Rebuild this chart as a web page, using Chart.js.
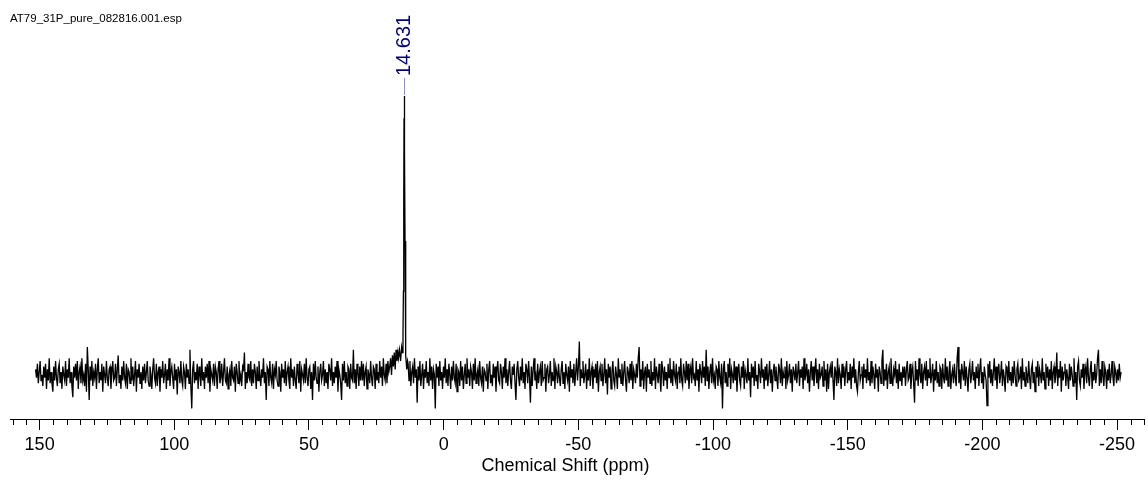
<!DOCTYPE html>
<html>
<head>
<meta charset="utf-8">
<script src="https://cdn.jsdelivr.net/npm/chart.js@4.4.0/dist/chart.umd.min.js"></script>
<style>
html, body { margin: 0; padding: 0; background: #fff; }
#wrap { position: relative; width: 1148px; height: 480px; }
#fileName { position: absolute; left: 10px; top: 12px; font: 11.5px "Liberation Sans", Arial, sans-serif; color: #000; white-space: nowrap; }
</style>
</head>
<body>
<div id="wrap">
    <canvas id="nmrChart"></canvas>
    <div id="fileName">AT79_31P_pure_082816.001.esp</div>
</div>
<script>
// spectrum, intensity scaled so the peak is 100
// left of the peak: 151.5 -> 17.0 ppm
var noiseA = [2, -1, 4, -3, 1, 5, -2, 0, -4, 3, -1, 4, -5, 2, -2, 6, -3, 1, -3, -6,
    3, -2, 5, -1, -4, 2, 4, -3, 1, -5, 3, 0, -2, 5, -4, 2, -1, 6, -3, 1,
    -4, -8, 3, -1, 4, -2, 5, -5, 1, 3, -3, 6, -2, 0, -4, 4, -6, 10, 2, -9,
    3, -2, 5, -4, 1, -1, 4, -5, 2, 6, -3, 1, -2, 4, -6, 3, 0, -3, 5, -1,
    -4, 2, 3, -5, 1, 5, -2, -1, 4, -4, 2, 7, -3, 0, -5, 3, -2, 5, -1, -3,
    4, -5, 2, 1, -3, 6, -2, 3, -4, 0, 5, -6, 2, -1, 4, -3, 1, -5, 3, -2];
var noiseB = [4, -3, 1, 5, -2, -4, 3, 0, -5, 2, 6, -1, -3, 4, -4, 1, 3, -6, 2, -1,
    5, -3, 0, 4, -5, 2, -2, 6, -4, 1, 3, -1, -5, 4, -2, 2, -7, 3, 1, -3,
    5, -2, -4, 3, 1, -5, 4, -1, 2, -3, 9, -4, -12, 2, 5, -3, 1, -2, 4, -5,
    3, 0, -4, 6, -2, 1, -5, 3, -1, 4, -3, 5, -6, 2, 0, -2, 4, -4, 3, 1,
    -5, 2, 5, -3, -1, 4, -4, 1, 6, -2, -3, 3, -5, 0, 2, -4, 5, -1, -2, 3,
    -6, 4, 1, -3, 5, -2, 0, -4, 3, 2, 8, -5, 1, -3, 4, -1, -2, 5, -4, 2];
var noiseC = [-3, 4, 1, -5, 3, -2, 5, 0, -4, 2, -1, 6, -3, 1, -9, 3, 2, -4, 5, -1,
    -3, 4, -5, 2, 0, 5, -2, -4, 3, 1, -6, 4, -1, 2, -3, 5, -4, 1, 3, -2,
    -5, 6, -1, 2, -4, 3, -2, -5, 4, 1, -3, 5, -6, 2, 0, -2, 4, -3, 6, -1,
    -4, 2, 3, -5, 1, -9, 4, -2, 5, -1, -3, 3, -6, 1, 4, -2, 0, 5, -4, 2,
    -3, 1, -5, 4, 2, -2, 6, -4, 1, -3, 3, -1, 5, -6, 2, 0, -3, -9, 4, -2,
    5, -3, 1, -4, 3, 2, -5, 4, -1, -2, 9, -3, 2, -5, 4, 1, -4, 3, -2, 5];
var noiseD1 = [-2, 4, -4, 1, 3, -5, 2, 0, -3, 5, -1, -4, 3, 2, -5, 4, -2, 1, -3, 5,
    -1, 3, -4, 6, 0, -2, 4, -3, 5, 1, 3, 6, 0, 7, 3, 8, 2, 9, 5, 8];

// the peak itself
var peakPpm = [16.8, 16.4, 16.0, 15.6, 15.3, 15.1, 14.95, 14.82, 14.72, 14.631, 14.55, 14.45, 14.34, 14.2, 14.0, 13.7, 13.4];
var peakVals = [6, 9, 5, 10, 8, 14, 30, 62, 92, 100, 95, 80, 48, 20, 7, 2, 5];
var peakLabel = 14.631;

// right of the peak: 13.2 -> -251.5 ppm
var noiseD2 = [4, -2, 5, -4, 1, 3, -3, 6, -1, 2, -10, 3, -2, 5, -4, 0, 4, -5, 2, -1,
    5, -3, 1, -4, 6, -2, 3, -5, 2, 0, -12, 4, -1, 3, -4, 5, -2, 1, -5, 3,
    -1, 6, -3, 2, -4, 4, 0, -5, 3, -2, 5, -1, -3, 4, -6, 2, 1, -4, 5, -2,
    3, -5, 0, 4, -3, 6, -1, 2];
var noiseE = [-4, 3, 1, -5, 4, -2, 6, -3, 0, 2, -4, 5, -1, -3, 3, -6, 2, 1, -2, 4,
    -5, 2, 5, -3, 0, -4, 4, -1, 3, -6, 2, 5, -2, -3, 4, 1, -5, 3, -1, 6,
    -3, 2, -4, 1, 5, -2, -5, 3, 0, 4, -3, -9, 2, 5, -1, -4, 3, -2, 6, -3,
    1, -5, 4, 2, -3, 5, -1, -10, 3, -4, 2, 6, -2, 0, -5, 4, -3, 1, 3, -4,
    5, -2, -1, 4, -6, 2, 3, -3, 0, 5, -4, 1, -2, 6, -5, 3, 1, -3, 4, -1,
    -4, 2, 5, -3, 1, -5, 4, 0, -2, 3, -6, 5, -1, 2, -3, 4, -4, 1, 6, -2];
var noiseF = [3, 12, -4, 2, -1, 5, -3, 0, 4, -5, 2, -2, 6, -4, 1, 3, -5, 2, -1, 4,
    -3, 5, -6, 1, 3, -2, 4, -4, 0, 6, -3, 2, -7, 4, -1, 3, -5, 1, 5, -2,
    -4, 3, 0, -5, 6, -1, 2, -3, 4, -4, 1, 5, -2, -6, 3, 1, -3, 4, -2, 5,
    -5, 2, 0, -3, 4, -1, 6, 10, -4, 2, -2, 5, -5, 1, 3, -6, 4, -1, 2, -3,
    5, -4, 1, -2, 6, -5, 3, 0, -3, 4, -1, -6, 5, 2, -4, 3, -2, 1, -5, 4,
    -1, 6, -3, 2, -4, 5, 0, -2, 4, -5, 1, 3, -3, 6, -2, -4, 4, 1, -3, 5];
var noiseG = [-2, 4, -5, 1, 3, -3, 6, -1, 0, -4, 5, -2, 2, -6, 4, 1, -3, 5, -1, 3,
    -4, 9, -2, 3, -5, 1, 4, -3, 6, -2, 0, -5, 3, 2, -4, 5, -1, -3, 4, -12,
    2, 5, -3, 1, -4, 4, -1, 6, -5, 2, 0, -3, 5, -2, 3, -6, 1, 4, -2, -4,
    3, -1, 5, -5, 2, 0, -3, 6, -2, 1, -8, 4, -1, 3, -4, 5, -2, 0, -5, 4,
    1, -3, 6, -1, 2, -5, 3, -2, 4, -4, 0, 5, -3, 2, -6, 1, 4, -2, 3, -1,
    -5, 4, 2, -3, 6, -4, 1, -1, 3, -5, 5, -2, 0, 4, -3, 2, -6, 3, 1, -2];
var noiseH = [4, -3, 1, 5, -4, 2, -1, 3, -5, 6, -2, 0, 4, -3, 2, -6, 1, 5, -2, 3,
    -4, 1, 6, -3, 2, -5, 4, -1, 0, 3, -4, 5, -2, 2, -6, 4, -5, 1, 3, -1,
    5, -2, -9, 3, 1, -4, 6, -3, 2, 0, -5, 4, -1, 3, -4, 2, 5, -3, 1, -2,
    4, -5, 3, -1, 6, -3, 2, -4, -6, 1, 5, -2, 0, 3, -5, 4, -1, 2, -3, 6,
    -2, 1, -4, 5, -3, 3, 0, -5, 4, -1, 2, -6, 3, 1, -3, 5, 9, -4, 2, -2,
    4, -5, 1, 3, -3, 6, -1, -4, 2, 0, 5, -3, 2, -5, 4, -2, 1, -4, 3, -1];
var noiseI = [3, -4, 2, 5, -2, -1, 4, -5, 1, 3, -3, -10, 5, -2, 2, -4, 6, 0, -3, 4,
    -5, 1, 3, -2, 5, -4, 2, -1, 6, -3, 0, 4, -6, 2, -2, 5, -3, 1, -4, 3,
    2, -5, 4, -1, -3, 6, -2, 3, -4, 1, 5, -5, 0, 2, -3, 4, -1, -4, 6, 10,
    -3, 2, -5, 4, 1, -2, 5, -4, 3, -1, -6, 2, 4, -3, 0, 5, -2, 1, -5, 3,
    -1, 4, -4, 2, 6, -3, 1, -5, 3, 0, -2, -11, 4, -1, 5, -3, 2, -4, 1, 6,
    -2, 3, -5, 1, 4, -3, 0, 5, -4, 2, -1, -6, 3, 2, -3, 5, -2, 1, -4, 3];
var noiseJ = [-3, 5, 0, -4, 2, 4, -2, -1, 3, -5, 6, -2, 1, -4, 3, 0, -3, 5, -1, -5,
    2, 4, -3, 1, -6, 3, -1, 5, -4, 2, 0, -3, 6, -2, 1, -5, 4, -1, 3, -4,
    2, -2, 5, -5, 1, 3, -3, 0, 8, -4, 2, -1, 5, -6, 3, -2, 1, 4, -4, 2,
    -1, -5, 4, -2, 3, 0, -4, 6, -3, 1, -9, 3, 5, -2, -4, 2, -1, 4, -5, 1,
    3, -3, 6, -1, -4, 2, 5, -5, 1, -2, 4, -3, 0, 6, 9, -4, 2, -3, 5, -1,
    -4, 3, 1, -5, 2, -2, 4, -3, 0, 5, -1, -4, 3, 1, -3, 2, -2, 4, -1, 1];

var leftNoise = [].concat(noiseA, noiseB, noiseC, noiseD1);
var rightNoise = [].concat(noiseD2, noiseE, noiseF, noiseG, noiseH, noiseI, noiseJ);

function spread(vals, from, to) {
    var step = (to - from) / (vals.length - 1);
    return vals.map(function (v, i) { return {x: from + i * step, y: v}; });
}

var points = spread(leftNoise, 151.5, 17.0)
    .concat(peakPpm.map(function (p, i) { return {x: p, y: peakVals[i]}; }))
    .concat(spread(rightNoise, 13.2, -251.5));

function isMajor(v) {
    return Math.abs(v % 50) < 1e-6;
}

var font = '"Liberation Sans", Arial, sans-serif';

// minor ticks, peak label and axis title
var extras = {
    id: 'extras',
    afterDraw: function (chart) {
        var ctx = chart.ctx;
        var xs = chart.scales.x;
        var ys = chart.scales.y;
        var base = chart.chartArea.bottom;
        ctx.save();
        ctx.strokeStyle = '#000';
        ctx.lineWidth = 1;
        xs.ticks.forEach(function (t) {
            if (isMajor(t.value)) return;
            var px = Math.round(xs.getPixelForValue(t.value)) + 0.5;
            ctx.beginPath();
            ctx.moveTo(px, base);
            ctx.lineTo(px, base + 6);
            ctx.stroke();
        });

        var peakX = Math.round(xs.getPixelForValue(peakLabel)) + 0.5;
        var peakTop = ys.getPixelForValue(100);
        ctx.strokeStyle = '#8c8cc8';
        ctx.beginPath();
        ctx.moveTo(peakX, 78);
        ctx.lineTo(peakX, peakTop - 1);
        ctx.stroke();

        ctx.translate(peakX, 76);
        ctx.rotate(-Math.PI / 2);
        ctx.fillStyle = '#000080';
        ctx.font = '20px ' + font;
        ctx.textAlign = 'left';
        ctx.textBaseline = 'middle';
        ctx.fillText(peakLabel.toFixed(3), 0, 0);
        ctx.restore();

        ctx.save();
        ctx.fillStyle = '#000';
        ctx.font = '18px ' + font;
        ctx.textAlign = 'center';
        ctx.textBaseline = 'alphabetic';
        ctx.fillText('Chemical Shift (ppm)', 565.5, 471);
        ctx.restore();
    }
};

var chart = new Chart(document.getElementById('nmrChart'), {
    type: 'line',
    data: {
        datasets: [{
            data: points,
            borderColor: '#000',
            borderWidth: 1.3,
            pointRadius: 0,
            tension: 0,
            fill: false
        }]
    },
    options: {
        responsive: true,
        maintainAspectRatio: false,
        animation: false,
        layout: {padding: {left: 10, right: 0, top: 0, bottom: 20.4}},
        plugins: {legend: {display: false}, tooltip: {enabled: false}},
        scales: {
            x: {
                type: 'linear',
                reverse: true,
                min: -260.1,
                max: 161,
                border: {display: true, color: '#000', width: 1},
                grid: {
                    drawOnChartArea: false,
                    tickLength: 11,
                    tickColor: function (c) {
                        return c.tick && isMajor(c.tick.value) ? '#000' : 'rgba(0,0,0,0)';
                    }
                },
                ticks: {
                    stepSize: 5,
                    maxTicksLimit: 100,
                    autoSkip: false,
                    maxRotation: 0,
                    includeBounds: false,
                    padding: 4,
                    color: '#000',
                    font: {family: font, size: 18},
                    callback: function (v) { return isMajor(v) ? String(v) : ''; }
                }
            },
            y: {
                display: false,
                min: -15.8,
                max: 134.4
            }
        }
    },
    plugins: [extras]
});
</script>
</body>
</html>
